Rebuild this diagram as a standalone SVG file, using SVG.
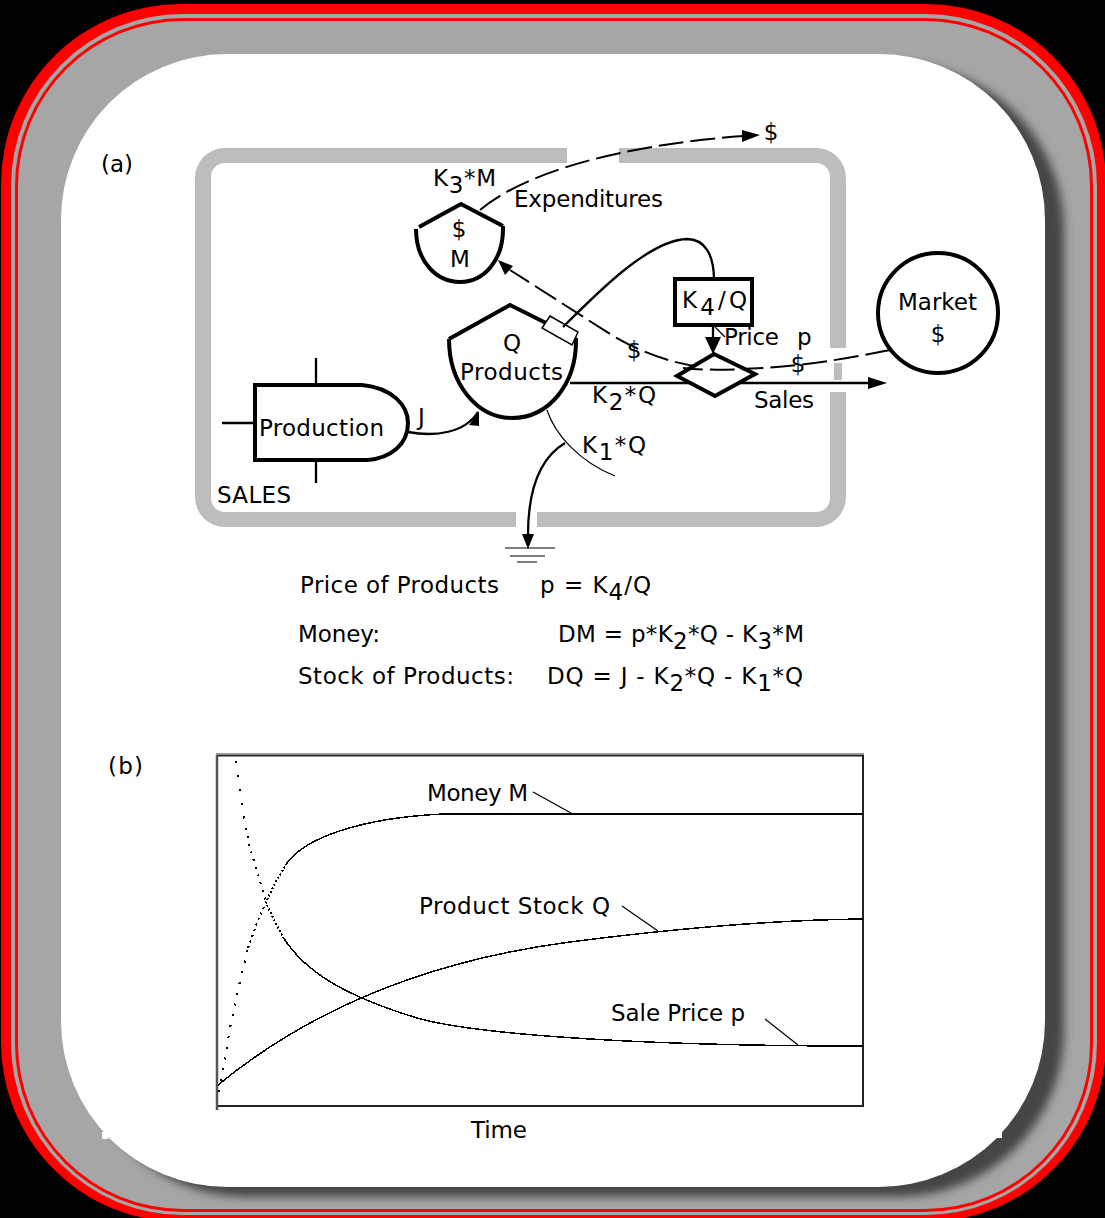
<svg xmlns="http://www.w3.org/2000/svg" width="1105" height="1218" viewBox="0 0 1105 1218">
<style>
text{font-family:"DejaVu Sans","Liberation Sans",sans-serif;font-size:23px;fill:#000}
.m{text-anchor:middle}
.o{fill:none;stroke:#000;stroke-width:4}
.t{fill:none;stroke:#000;stroke-width:2.300}
.h{fill:none;stroke:#000;stroke-width:1.200}
.d{fill:none;stroke:#000;stroke-width:2;stroke-dasharray:25 7}
.a{fill:#000;stroke:none}
.g{fill:#bdbdbd}
.c{fill:none;stroke:#000;stroke-width:1.500;shape-rendering:crispEdges}
.p{fill:none;stroke:#000;stroke-width:2;shape-rendering:crispEdges}
</style>
<defs>
<filter id="blur" x="-5%" y="-5%" width="110%" height="110%"><feGaussianBlur stdDeviation="5"/></filter>
<clipPath id="band"><rect x="18" y="21" width="1072" height="1188" rx="165"/></clipPath>
</defs>
<g id="frame">
<rect width="1105" height="1218" fill="#000"/>
<rect x="1" y="4" width="1105" height="1218" rx="180" fill="#f00"/>
<rect x="11" y="14" width="1086" height="1201" rx="172" fill="#a6a6a6"/>
<rect x="15" y="18" width="1078" height="1194" rx="168" fill="#f00"/>
<rect x="18" y="21" width="1072" height="1188" rx="165" fill="#a6a6a6"/>
<g clip-path="url(#band)"><rect x="80" y="64" width="984" height="1133" rx="166" fill="#444" filter="url(#blur)"/></g>
<rect x="61" y="54" width="984" height="1133" rx="166" fill="#fff"/>
<rect x="102" y="1132" width="6" height="7" fill="#fff"/>
<rect x="996" y="1132" width="6" height="6" fill="#fff"/>
</g>
<g id="sales-boundary">
<path class="g" d="M567 148H225a30 30 0 0 0-30 30V497a30 30 0 0 0 30 30H516V512H225a14 14 0 0 1-14-14V177a14 14 0 0 1 14-14H567Z"/>
<path class="g" d="M619 148H816a30 30 0 0 1 30 30V348H830V177a14 14 0 0 0-14-14H619Z"/>
<path class="g" d="M537 527H816a30 30 0 0 0 30-30V392H830V498a14 14 0 0 1-14 14H537Z"/>
<rect class="g" x="834" y="363" width="8" height="17"/>
<text x="217" y="503" textLength="74">SALES</text>
</g>
<text x="101" y="172" textLength="32">(a)</text>
<text x="108" y="774" textLength="35">(b)</text>
<g id="connectors">
<path class="d" d="M480 210C525 172 622 145 743 136"/>
<path class="a" d="M760 135L742 130V142Z"/>
<path class="d" d="M890 350C840 360 790 368 740 369C690 370 650 358 610 334L510 270"/>
<path class="a" d="M498 260L513 266L505 275Z"/>
<path class="t" d="M408 432C435 437 465 433 478 412"/>
<path class="a" d="M479 411V426L469 425Z"/>
<path class="h" d="M547 410C555 435 580 462 615 476"/>
<path class="t" d="M565 443C540 458 528 490 528 535"/>
<path class="a" d="M528 549L522 534H534Z"/>
<path class="t" d="M570 383H870"/>
<path class="a" d="M887 383L868 377V389Z"/>
<path class="t" d="M713 325V340"/>
<path class="a" d="M713 354L705 337H721Z"/>
<path class="h" d="M715 327L725 337"/>
</g>
<g id="ground"><path class="h" d="M505 548H555M510 556H545"/><path d="M517 562H537" stroke="#555" stroke-width="1.500"/></g>
<g id="production">
<path class="o" d="M362 385H255V460H368"/>
<path d="M362 385C392 388 408 405 408 423C408 445 390 458 368 460" class="o"/>
<path class="t" d="M316 358V385M316 460V483M222 423H255"/>
<text x="259" y="436" textLength="125">Production</text>
<text x="418" y="425">J</text>
</g>
<g id="products">
<path class="o" d="M449 339L510 305L576 338"/>
<path class="o" d="M449 339C449 385 478 418 512 418C548 418 577 385 576 338"/>
<polygon points="550,316 578,332 572,345 542,328" fill="#fff" stroke="#000" stroke-width="1.500"/>
<path class="t" d="M563 327C600 290 650 240 687 239C705 239 714 255 714 280"/>
<text class="m" x="512" y="351">Q</text>
<text x="460" y="380" textLength="103">Products</text>
</g>
<g id="money">
<path class="o" d="M419 227L461 204L503 226"/>
<path class="o" d="M416 229C416 262 437 282 460 282C484 282 504 260 503 226"/>
<text class="m" x="459" y="237">$</text>
<text class="m" x="460" y="267">M</text>
</g>
<g id="k3-label">
<text x="433" y="186" textLength="63">K<tspan dy="7">3</tspan><tspan dy="-7">*M</tspan></text>
<text x="514" y="207" textLength="149">Expenditures</text>
</g>
<g id="price-box">
<rect class="o" x="675" y="279" width="77" height="46" fill="#fff"/>
<text x="682" y="308" textLength="65">K<tspan dy="7">4</tspan><tspan dy="-7">/Q</tspan></text>
<text x="724" y="345" textLength="55">Price</text>
<text x="797" y="345">p</text>
</g>
<g id="sales-valve">
<polygon class="o" points="677,376 714,354 755,374 715,396" style="fill:#fff"/>
<path class="d" stroke-dashoffset="5" d="M683 368C700 370 720 370 747 369"/>
<text x="592" y="403" textLength="64">K<tspan dy="7">2</tspan><tspan dy="-7">*Q</tspan></text>
<text x="754" y="408" textLength="60">Sales</text>
<text x="582" y="453" textLength="64">K<tspan dy="7">1</tspan><tspan dy="-7">*Q</tspan></text>
<text class="m" x="634" y="358">$</text>
<text class="m" x="798" y="372">$</text>
<text class="m" x="771" y="140">$</text>
</g>
<g id="market">
<circle class="o" cx="938" cy="313" r="60" fill="#fff"/>
<text x="898" y="310" textLength="79">Market</text>
<text class="m" x="938" y="342">$</text>
</g>
<g id="equations">
<text x="300" y="593" textLength="199">Price of Products</text>
<text x="540" y="593" textLength="111">p = K<tspan dy="7">4</tspan><tspan dy="-7">/Q</tspan></text>
<text x="298" y="642" textLength="82">Money:</text>
<text x="558" y="642" textLength="246">DM = p*K<tspan dy="7">2</tspan><tspan dy="-7">*Q - K</tspan><tspan dy="7">3</tspan><tspan dy="-7">*M</tspan></text>
<text x="298" y="684" textLength="216">Stock of Products:</text>
<text x="547" y="684" textLength="256">DQ = J - K<tspan dy="7">2</tspan><tspan dy="-7">*Q - K</tspan><tspan dy="7">1</tspan><tspan dy="-7">*Q</tspan></text>
</g>
<g id="chart">
<path d="M216 753.500H864" stroke="#999" stroke-width="1"/>
<path d="M217 755.500H863V1106H217Z" fill="none" stroke="#222" stroke-width="2"/>
<path d="M217 755V1110" stroke="#555" stroke-width="2.500"/>
<polyline class="p" stroke-dasharray="2 9" points="219,1092 224,1066 230,1028 238,990 248,948"/>
<polyline class="p" stroke-dasharray="2 4" points="248,948 258,920 267,900"/>
<polyline class="p" stroke-dasharray="2 2" points="267,900 275,883 287,863"/>
<path class="c" d="M287 863C305 838 360 818 443 814H863"/>
<polyline class="p" stroke-dasharray="2 12" points="236,761 238,777 242,807 246,828"/>
<polyline class="p" stroke-dasharray="2 6" points="246,828 250,848 257,871 267,905"/>
<polyline class="p" stroke-dasharray="2 2" points="267,905 275,922 283,937"/>
<path class="c" d="M283 937C305 972 345 996 417 1018C470 1033 620 1046 863 1046"/>
<path class="c" d="M218 1085C285 1030 395 965 570 942C640 933 760 920 863 919"/>
<path class="h" d="M533 792L571 813M622 906L658 931M765 1019L798 1045"/>
<text x="427" y="801" textLength="101">Money M</text>
<text x="419" y="914" textLength="191">Product Stock Q</text>
<text x="611" y="1021" textLength="134">Sale Price p</text>
<text x="471" y="1138" textLength="56">Time</text>
</g>
</svg>
